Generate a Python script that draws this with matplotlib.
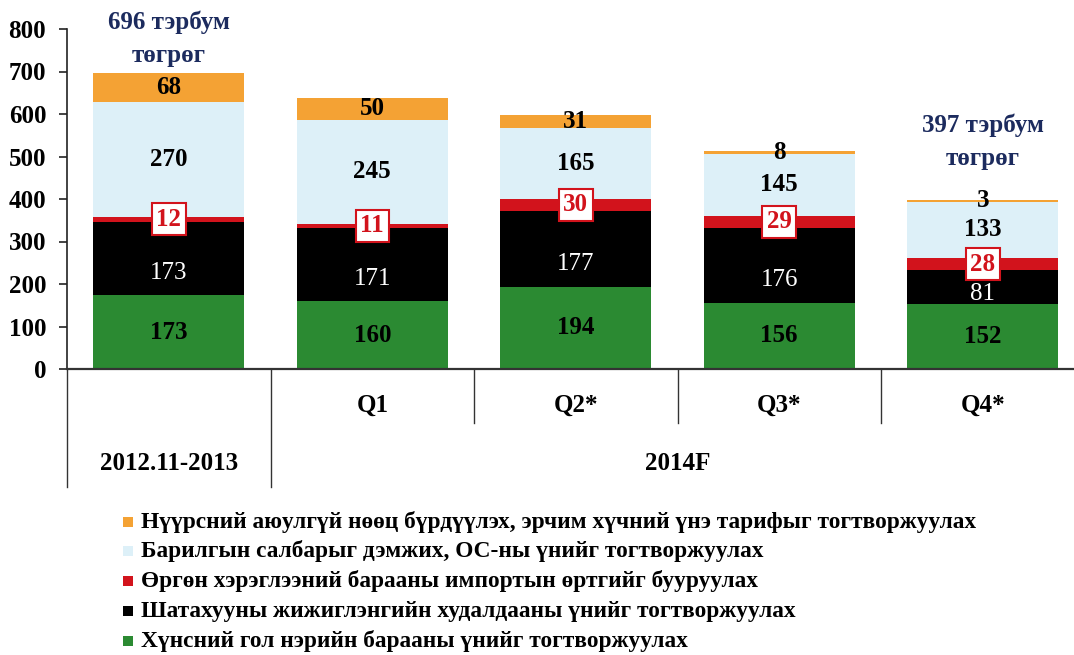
import matplotlib
matplotlib.use("Agg")
import matplotlib.pyplot as plt
from matplotlib.patches import Rectangle
import matplotlib.transforms as mtransforms

categories = ["2012.11-2013", "Q1", "Q2*", "Q3*", "Q4*"]
group_labels = ["2012.11-2013", "2014F"]
food = [173, 160, 194, 156, 152]
fuel = [173, 171, 177, 176, 81]
imports = [12, 11, 30, 29, 28]
construction = [270, 245, 165, 145, 133]
coal = [68, 50, 31, 8, 3]
totals_text = {0: "696 тэрбум\nтөгрөг", 4: "397 тэрбум\nтөгрөг"}
legend_labels = [
    "Нүүрсний аюулгүй нөөц бүрдүүлэх, эрчим хүчний үнэ тарифыг тогтворжуулах",
    "Барилгын салбарыг дэмжих, ОС-ны үнийг тогтворжуулах",
    "Өргөн хэрэглээний барааны импортын өртгийг бууруулах",
    "Шатахууны жижиглэнгийн худалдааны үнийг тогтворжуулах",
    "Хүнсний гол нэрийн барааны үнийг тогтворжуулах",
]
yticks = [0, 100, 200, 300, 400, 500, 600, 700, 800]

C_GREEN = "#2B8A32"
C_BLACK = "#000000"
C_RED = "#D2131C"
C_LIGHT = "#DDF0F8"
C_ORANGE = "#F4A234"
C_NAVY = "#1C2B5E"

SERIF = ["Liberation Serif", "DejaVu Serif"]
FS = 18

W, H = 1074, 655
fig = plt.figure(figsize=(W / 100, H / 100), dpi=100)
fig.patch.set_facecolor("white")

ax_left, ax_right = 67, 1074
ax_top, ax_bot = 29, 369
ax = fig.add_axes([ax_left / W, 1 - ax_bot / H, (ax_right - ax_left) / W, (ax_bot - ax_top) / H])
cat_w = 203.5
ax.set_xlim(-0.5, -0.5 + (ax_right - ax_left) / cat_w)
ax.set_ylim(0, 800)

x = list(range(len(categories)))
bw = 0.74
series = [(food, C_GREEN), (fuel, C_BLACK), (imports, C_RED), (construction, C_LIGHT), (coal, C_ORANGE)]
bottoms = [0] * len(x)
seg_info = []
for vals, col in series:
    ax.bar(x, vals, bw, bottom=bottoms, color=col, edgecolor="none", zorder=2)
    seg_info.append([(b, v) for b, v in zip(bottoms, vals)])
    bottoms = [b + v for b, v in zip(bottoms, vals)]

for i in x:
    b, v = seg_info[0][i]
    ax.text(i, b + v / 2, str(v), ha="center", va="center", fontsize=FS, fontweight="bold",
            family=SERIF, color="black", zorder=4)
    b, v = seg_info[1][i]
    off = 0.2 * v
    ax.text(i, b + v / 2 - off, str(v), ha="center", va="center", fontsize=FS,
            family=SERIF, color="white", zorder=4)
    b, v = seg_info[2][i]
    ax.text(i, b + v / 2, str(v), ha="center", va="center", fontsize=FS, fontweight="bold",
            family=SERIF, color=C_RED, zorder=5,
            bbox=dict(boxstyle="square,pad=0.18", fc="white", ec=C_RED, lw=1.5))
    b, v = seg_info[3][i]
    ax.text(i, b + v / 2, str(v), ha="center", va="center", fontsize=FS, fontweight="bold",
            family=SERIF, color="black", zorder=4)
    b, v = seg_info[4][i]
    ax.text(i, b + v / 2, str(v), ha="center", va="center", fontsize=FS, fontweight="bold",
            family=SERIF, color="black", zorder=4)

ann_offsets = {0: 13, 4: 30}
for i, t in totals_text.items():
    top = bottoms[i]
    l1, l2 = t.split("\n")
    ax.annotate(l2, xy=(i, top), xytext=(0, ann_offsets[i]), textcoords="offset points",
                ha="center", va="center", fontsize=FS, fontweight="bold", family=SERIF,
                color=C_NAVY, annotation_clip=False)
    ax.annotate(l1, xy=(i, top), xytext=(0, ann_offsets[i] + 24), textcoords="offset points",
                ha="center", va="center", fontsize=FS, fontweight="bold", family=SERIF,
                color=C_NAVY, annotation_clip=False)

for s in ["top", "right"]:
    ax.spines[s].set_visible(False)
ax.spines["left"].set_color("#222222")
ax.spines["left"].set_linewidth(1.2)
ax.spines["bottom"].set_color("#333333")
ax.spines["bottom"].set_linewidth(1.6)
ax.set_yticks(yticks)
ax.set_yticklabels([str(t) for t in yticks], fontsize=FS, fontweight="bold", family=SERIF)
ax.tick_params(axis="y", length=6, width=1.2, pad=9, color="#222222")
ax.set_xticks([])

ah = ax_bot - ax_top
y_short = -(423 - ax_bot) / ah
y_long = -(487 - ax_bot) / ah
y_q = -(405 - ax_bot) / ah
y_g = -(463 - ax_bot) / ah
trans = mtransforms.blended_transform_factory(ax.transData, ax.transAxes)
for bx, yl in [(-0.5, y_long), (0.5, y_long), (1.5, y_short), (2.5, y_short), (3.5, y_short)]:
    ax.plot([bx, bx], [0, yl], transform=trans, color="#333333", lw=1.0, clip_on=False)
for i in x[1:]:
    ax.text(i, y_q, categories[i], transform=trans, ha="center", va="center", fontsize=FS,
            fontweight="bold", family=SERIF)
ax.text(0, y_g, group_labels[0], transform=trans, ha="center", va="center", fontsize=FS,
        fontweight="bold", family=SERIF)
ax.text(2.5, y_g, group_labels[1], transform=trans, ha="center", va="center", fontsize=FS,
        fontweight="bold", family=SERIF)

leg_cols = [C_ORANGE, C_LIGHT, C_RED, C_BLACK, C_GREEN]
row_y = [522, 551, 581, 611, 641]
for lab, col, yy in zip(legend_labels, leg_cols, row_y):
    sq = 10
    fig.add_artist(Rectangle((123 / W, 1 - (yy + sq / 2) / H), sq / W, sq / H,
                             transform=fig.transFigure, color=col, lw=0))
    fig.text(141 / W, 1 - yy / H, lab, ha="left", va="center", fontsize=16.85,
             fontweight="bold", family=SERIF)

fig.savefig("out.png", dpi=100)
